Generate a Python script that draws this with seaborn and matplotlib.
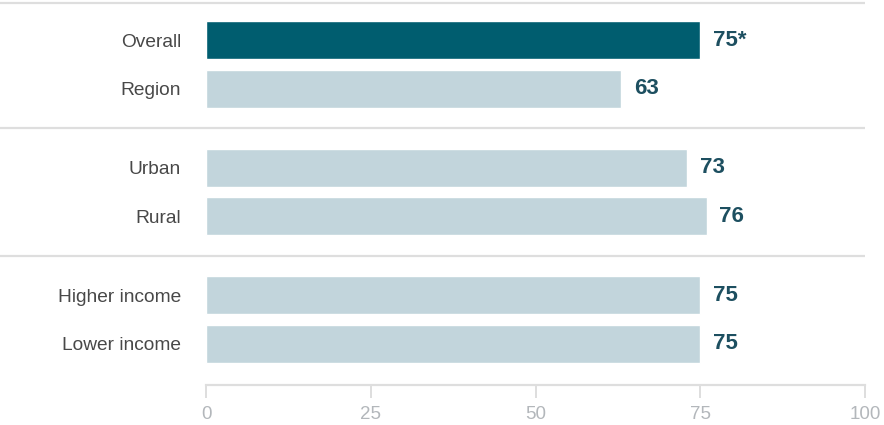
import matplotlib
matplotlib.use("Agg")
import matplotlib.pyplot as plt
import matplotlib.transforms as mtransforms
import numpy as np
import pandas as pd
import seaborn as sns

# Survey share by group (percent)
categories = ["Overall", "Region", "Urban", "Rural", "Higher income", "Lower income"]
values = [75, 63, 73, 76, 75, 75]
groups = [0, 0, 1, 1, 2, 2]
value_labels = ["75*", "63", "73", "76", "75", "75"]
x_ticks = [0, 25, 50, 75, 100]

HIGHLIGHT = "#005d6f"
BASE = "#c2d5dc"
LABEL_DARK = "#484848"
VALUE_COLOR = "#1d4f60"
GRID_GRAY = "#dedede"
TICK_GRAY = "#b3b7bb"

group_gap = 0.63
positions = [i + g * group_gap for i, g in enumerate(groups)]

df = pd.DataFrame({
    "category": categories,
    "value": values,
    "pos": positions,
})
palette = {c: (HIGHLIGHT if c == "Overall" else BASE) for c in categories}

sns.set_style("white")
plt.rcParams["font.family"] = ["Liberation Sans", "DejaVu Sans"]

fig = plt.figure(figsize=(8.84, 4.25), dpi=100)
ax = fig.add_axes([206 / 884, (425 - 385) / 425, 659 / 884, 385 / 425])

sns.barplot(
    data=df, x="value", y="pos", hue="category", palette=palette,
    orient="h", native_scale=True, dodge=False, width=0.78,
    legend=False, ax=ax, saturation=1,
)

ax.set_xlim(0, 100)
ax.set_ylim(positions[-1] + 0.845, positions[0] - 0.825)

# Value labels at bar ends
for v, y, lab in zip(values, positions, value_labels):
    ax.annotate(lab, (v, y), xytext=(9, 0), textcoords="offset points",
                va="center", ha="left", fontsize=16, fontweight="bold",
                color=VALUE_COLOR)

# Group separators spanning the label column
trans = mtransforms.blended_transform_factory(ax.transAxes, ax.transData)
sep_y = [positions[0] - 0.76]
for a, b in zip(range(len(groups) - 1), range(1, len(groups))):
    if groups[a] != groups[b]:
        sep_y.append((positions[a] + positions[b]) / 2)
for y in sep_y:
    ax.plot([-206 / 659, 1.0], [y, y], transform=trans, color=GRID_GRAY,
            lw=1.6, clip_on=False, solid_capstyle="butt")

ax.set_yticks(positions, categories)
ax.set_ylabel("")
ax.set_xlabel("")
ax.set_xticks(x_ticks, [str(t) for t in x_ticks])
ax.tick_params(axis="y", length=0, pad=18, labelsize=13.8, labelcolor=LABEL_DARK)
ax.tick_params(axis="x", bottom=True, length=9, width=1.4, color=GRID_GRAY,
               labelsize=13.5, labelcolor=TICK_GRAY, pad=6)

for side in ("top", "right", "left"):
    ax.spines[side].set_visible(False)
ax.spines["bottom"].set_color(GRID_GRAY)
ax.spines["bottom"].set_linewidth(1.6)

fig.savefig("out.png", dpi=100)
